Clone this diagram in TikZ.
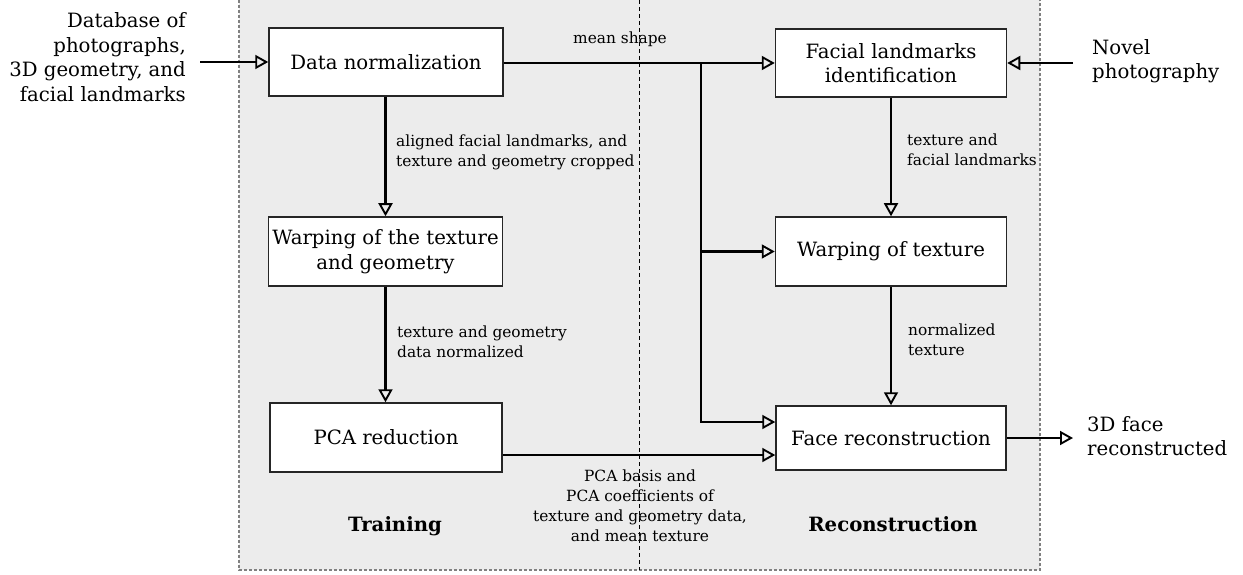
\documentclass[tikz,border=0pt]{standalone}
\usepackage{fontspec}
\setmainfont{DejaVu Serif}
\usetikzlibrary{arrows.meta}
\definecolor{panelgray}{HTML}{ECECEC}
\definecolor{bordergray}{HTML}{808080}
\tikzset{
  box/.style={draw=black!85, fill=white, line width=1.5pt, align=center, inner sep=0pt, font=\fontsize{19.7}{24.5}\selectfont},
  conn/.style={line width=2.2pt, -{Triangle[open, length=13pt, width=14pt, line width=1.9pt]}},
  lbl/.style={font=\fontsize{15.4}{20}\selectfont, inner sep=0pt},
  outer/.style={font=\fontsize{19.7}{24.5}\selectfont, inner sep=0pt},
  phase/.style={font=\bfseries\fontsize{19.7}{24}\selectfont, inner sep=0pt}
}
\begin{document}
\begin{tikzpicture}[x=1pt,y=-1pt]
\useasboundingbox (0,0) rectangle (1243,575);
% panel
\fill[panelgray] (239,0) rectangle (1040,570);
\draw[bordergray, line width=1.2pt, dash pattern=on 3pt off 2pt] (239,0) -- (239,570) -- (1040,570) -- (1040,0);
\draw[black, line width=1pt, dash pattern=on 4pt off 3pt] (639,0) -- (639,570);
% boxes
\node[box, minimum width=234pt, minimum height=68pt] (dn) at (386,62) {Data normalization};
\node[box, minimum width=231pt, minimum height=68pt] (fl) at (891,63) {Facial landmarks\\identification};
\node[box, minimum width=234pt, minimum height=69pt] (wtg) at (385.5,251.5) {Warping of the texture\\and geometry};
\node[box, minimum width=231pt, minimum height=69pt] (wt) at (891,251.5) {Warping of texture};
\node[box, minimum width=232pt, minimum height=69pt] (pca) at (386,437.5) {PCA reduction};
\node[box, minimum width=230pt, minimum height=64pt] (fr) at (891,438) {Face reconstruction};
% outer texts
\node[outer, anchor=east, align=right] (db) at (186,57) {Database of\\photographs,\\3D geometry, and\\facial landmarks};
\node[outer, anchor=west, align=left] (nov) at (1092,61) {Novel\\photography};
\node[outer, anchor=west, align=left] (res) at (1087,436) {3D face\\reconstructed};
% coordinates
\coordinate (in1) at (200,62);
\coordinate (in2) at (1073,63);
\coordinate (out) at (1073,438);
\coordinate (br) at (701,63);
% connectors
\draw[conn] (in1) -- (dn.west);
\draw[conn] (in2) -- (fl.east);
\draw[conn] (dn.east |- br) -- (br -| fl.west);
\draw[conn] (br) |- (wt.west);
\draw[conn] (br) |- ([yshift=16pt]fr.west);
\draw[conn] (dn.south -| wtg.north) -- (wtg.north);
\draw[conn] (wtg.south) -- (wtg.south |- pca.north);
\draw[conn] (fl.south) -- (wt.north);
\draw[conn] (wt.south) -- (fr.north);
\draw[conn] ([yshift=-17.5pt]pca.east) -- ([yshift=-17.5pt]pca.east -| fr.west);
\draw[conn] (fr.east) -- (out);
% labels
\node[lbl, anchor=south] (lms) at (620,47) {mean shape};
\node[lbl, anchor=west, align=left] (l1) at (396,152) {aligned facial landmarks, and\\texture and geometry cropped};
\node[lbl, anchor=west, align=left] (l2) at (397,342) {texture and geometry\\data normalized};
\node[lbl, anchor=west, align=left] (l3) at (907,150) {texture and\\facial landmarks};
\node[lbl, anchor=west, align=left] (l4) at (908,340) {normalized\\texture};
\node[lbl, anchor=north, align=center] (l5) at (640,470) {PCA basis and\\PCA coefficients of\\texture and geometry data,\\and mean texture};
\node[phase] (tr) at (395,526) {Training};
\node[phase] (rc) at (893,524) {Reconstruction};
\end{tikzpicture}
\end{document}
